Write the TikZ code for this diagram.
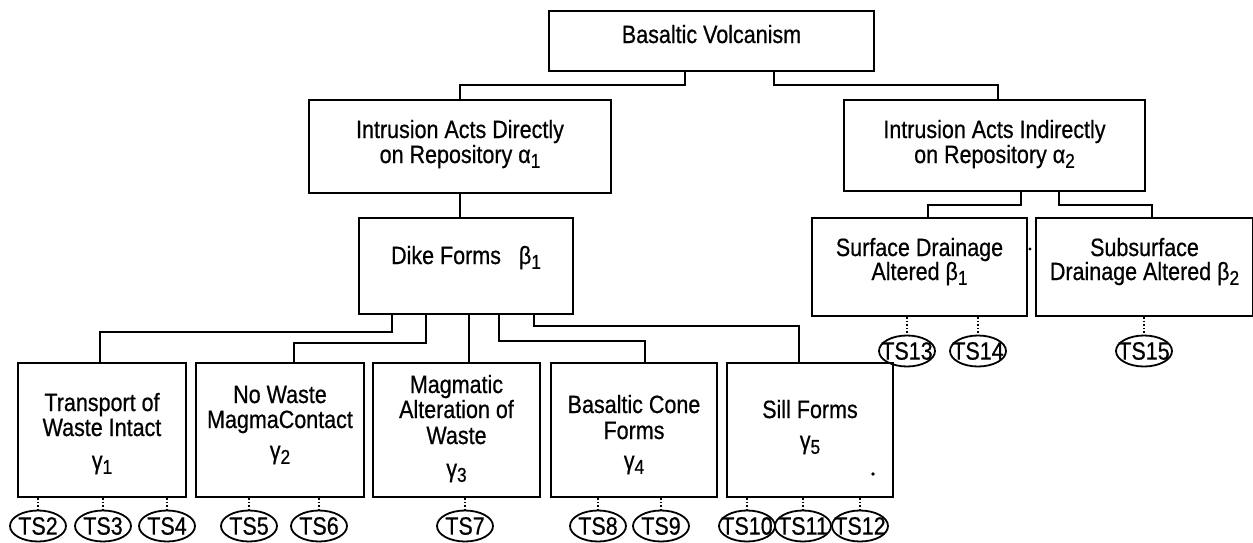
\documentclass[tikz,border=0pt]{standalone}
\usepackage{fontspec}
\setmainfont{Liberation Sans}[FakeStretch=0.86, FakeBold=0.6]
\usetikzlibrary{shapes.geometric}
\def\lo#1{\raisebox{-2.4pt}{\fontsize{10}{10}\selectfont #1}}
\def\cell#1#2#3#4{\parbox[c][#2][t]{#1}{\lineskiplimit=-8pt\centering\rule{0pt}{#3}#4}}

\begin{document}
\begin{tikzpicture}[x=0.5pt,y=-0.5pt,
    box/.style={draw, line width=1pt, inner sep=0pt, anchor=north west, font=\fontsize{12.5}{12.5}\selectfont},
    tsnode/.style={draw, ellipse, line width=0.9pt, inner sep=0pt, minimum width=28pt, minimum height=15.5pt, font=\fontsize{12.5}{12.5}\selectfont},
    link/.style={line width=0.9pt},
    tslink/.style={line width=0.8pt, densely dotted}]
		%%%%% START %%%%%
		\useasboundingbox (0,0) rectangle (1253,542);
		
		\node[box] (top) at (548,10) {\cell{162.5pt}{30pt}{16pt}{Basaltic Volcanism}};
		
		\node[box] (dir) at (308,99) {\cell{151pt}{46.5pt}{19pt}{Intrusion Acts Directly\\on Repository α\lo1}};
		\node[box] (ind) at (843,99) {\cell{150.5pt}{45.5pt}{19pt}{Intrusion Acts Indirectly\\on Repository α\lo2}};
		
		\node[box] (dike) at (358,217) {\cell{107pt}{48pt}{23pt}{Dike Forms\hspace{9pt}β\lo1}};
		\node[box] (surf) at (811,217) {\cell{107.5pt}{49pt}{19pt}{Surface Drainage\\[-0.5pt]Altered β\lo1}};
		\node[box] (sub) at (1035,217) {\cell{108.5pt}{49pt}{19pt}{Subsurface\\[-0.5pt]Drainage Altered β\lo2}};
		
		\node[box] (g1) at (17,362) {\cell{84pt}{67pt}{24pt}{Transport of\\Waste Intact\\[4pt]γ\lo1}};
		\node[box] (g2) at (195,362) {\cell{84pt}{67pt}{20pt}{No Waste\\MagmaContact\\[3pt]γ\lo2}};
		\node[box] (g3) at (372,362) {\cell{83.5pt}{67pt}{15pt}{Magmatic\\Alteration of\\[0.5pt]Waste\\[4pt]γ\lo3}};
		\node[box] (g4) at (550,362) {\cell{83pt}{67pt}{25pt}{Basaltic Cone\\[0.5pt]Forms\\[2.5pt]γ\lo4}};
		\node[box] (g5) at (726,362) {\cell{83pt}{67pt}{27.5pt}{Sill Forms\\[3pt]γ\lo5}};
		
		\draw[link] ([xshift=-13.25pt]top.south) -- ++(0,13) -| (dir.north);
		\draw[link] ([xshift=31.25pt]top.south) -- ++(0,13) -| ([xshift=1.75pt]ind.north);
		\draw[link] (dir.south) -- (dir.south |- dike.north);
		\draw[link] ([xshift=13.25pt]ind.south) -- ++(0,13) -| ([xshift=4.25pt]surf.north);
		\draw[link] ([xshift=32.25pt]ind.south) -- ++(0,13) -| ([xshift=3.75pt]sub.north);
		
		\draw[link] ([xshift=-37pt]dike.south) -- ++(0,17) -| ([xshift=-1pt]g1.north);
		\draw[link] ([xshift=-20pt]dike.south) -- ++(0,28) -| ([xshift=7pt]g2.north);
		\draw[link] ([xshift=1.5pt]dike.south) -- ([xshift=1.5pt]dike.south |- g3.north);
		\draw[link] ([xshift=16.5pt]dike.south) -- ++(0,26) -| ([xshift=5.5pt]g4.north);
		\draw[link] ([xshift=34pt]dike.south) -- ++(0,11) -| ([xshift=-5.5pt]g5.north);
		
		\node[tsnode] (ts2) at (38,526) {\makebox[0pt]{TS2}};
		\node[tsnode] (ts3) at (103,526) {\makebox[0pt]{TS3}};
		\node[tsnode] (ts4) at (167,526) {\makebox[0pt]{TS4}};
		\node[tsnode] (ts5) at (249,526) {\makebox[0pt]{TS5}};
		\node[tsnode] (ts6) at (319,526) {\makebox[0pt]{TS6}};
		\node[tsnode] (ts7) at (465,526) {\makebox[0pt]{TS7}};
		\node[tsnode] (ts8) at (598,526) {\makebox[0pt]{TS8}};
		\node[tsnode] (ts9) at (661,526) {\makebox[0pt]{TS9}};
		\node[tsnode] (ts10) at (747,526) {\makebox[0pt]{TS10}};
		\node[tsnode] (ts11) at (803,526) {\makebox[0pt]{TS11}};
		\node[tsnode] (ts12) at (860,526) {\makebox[0pt]{TS12}};
		\node[tsnode] (ts13) at (907,351) {\makebox[0pt]{TS13}};
		\node[tsnode] (ts14) at (978,351) {\makebox[0pt]{TS14}};
		\node[tsnode] (ts15) at (1144,351) {\makebox[0pt]{TS15}};
		
		\foreach \t/\b in {ts2/g1,ts3/g1,ts4/g1,ts5/g2,ts6/g2,ts7/g3,ts8/g4,ts9/g4,ts10/g5,ts11/g5,ts12/g5,ts13/surf,ts14/surf,ts15/sub}
			\draw[tslink] (\t.north |- \b.south) -- (\t.north);
		
		\fill (1030,249) circle (0.8pt);
		\fill (873,474) circle (0.9pt);
		%%%%% END %%%%%
\end{tikzpicture}
\end{document}
